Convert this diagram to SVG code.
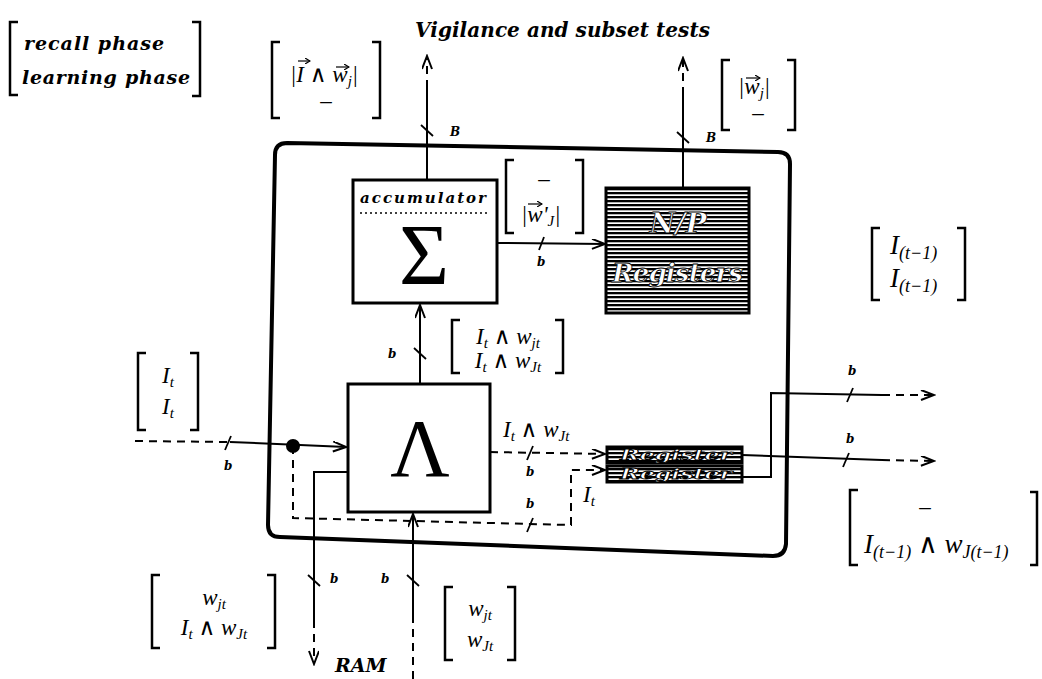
<svg xmlns="http://www.w3.org/2000/svg" width="1042" height="679" viewBox="0 0 1042 679">
<style>
.m{font-family:"Liberation Serif","DejaVu Serif",serif;font-style:italic;font-size:23px;fill:#000}
.bi{font-family:"DejaVu Serif","Liberation Serif",serif;font-style:italic;font-weight:bold;fill:#000}
.lb{font-family:"DejaVu Serif","Liberation Serif",serif;font-style:italic;font-weight:bold;font-size:12px;fill:#000}
.br{fill:none;stroke:#000;stroke-width:2.5}
.ln{fill:none;stroke:#000;stroke-width:2}
.ds{fill:none;stroke:#000;stroke-width:2;stroke-dasharray:8 6}
.tk{fill:none;stroke:#000;stroke-width:1.8}
.box{fill:#fff;stroke:#000;stroke-width:3}
.hat{fill:url(#stripes);stroke:#000;stroke-width:3}
.wt{font-family:"DejaVu Serif","Liberation Serif",serif;font-style:italic;font-weight:bold;fill:#fff;stroke:#000;stroke-width:0.8}
.sub{font-size:15px}
.big{font-size:27px}
.bigsub{font-size:18px}
.va{fill:none;stroke:#000;stroke-width:1.2}
</style>
<defs>
<pattern id="stripes" patternUnits="userSpaceOnUse" width="6" height="4">
<rect width="6" height="4" fill="#fff"/>
<rect width="6" height="2.3" fill="#000"/>
</pattern>
<marker id="ah" markerUnits="userSpaceOnUse" markerWidth="16" markerHeight="12" refX="14" refY="5" orient="auto">
<path d="M1,0 L14,5 L1,10" fill="none" stroke="#000" stroke-width="2"/>
</marker>
<marker id="va" markerUnits="userSpaceOnUse" markerWidth="6" markerHeight="6" refX="5" refY="3" orient="auto">
<path d="M0,0 L5,3 L0,6" fill="none" stroke="#000" stroke-width="1.2"/>
</marker>
</defs>
<rect width="1042" height="679" fill="#fff"/>

<g id="legend">
<path class="br" d="M18,22 H10 V95 H18"/>
<path class="br" d="M192,22 H200 V96 H192"/>
<text class="bi" x="24" y="50" font-size="19" textLength="140">recall phase</text>
<text class="bi" x="22" y="84" font-size="19" textLength="168">learning phase</text>
</g>

<g id="title">
<text class="bi" x="415" y="37" font-size="20" textLength="295">Vigilance and subset tests</text>
</g>

<g id="main-box">
<path d="M287,143 L778,152 Q790,152 790,164 L786,544 Q785,556 773,556 L280,537 Q268,537 268,525 L275,155 Q275,143 287,143 Z" fill="none" stroke="#000" stroke-width="4"/>
</g>

<g id="connectors">
<path class="ln" d="M427,180 V88"/>
<path class="ds" d="M427,88 V56" marker-end="url(#ah)"/>
<path class="tk" d="M421,125 L433,136"/>
<path class="ln" d="M683,190 V95"/>
<path class="ds" d="M683,95 V58" marker-end="url(#ah)"/>
<path class="tk" d="M677,132 L689,143"/>
<path class="ln" d="M497,243 L605,244" marker-end="url(#ah)"/>
<path class="tk" d="M539,250 L544,237"/>
<path class="ln" d="M420,384 V305" marker-end="url(#ah)"/>
<path class="tk" d="M414,348 L426,359"/>
<path class="ds" d="M135,441 L230,442"/>
<path class="ln" d="M230,442 L346,447" marker-end="url(#ah)"/>
<path class="tk" d="M225,450 L231,436"/>
<path class="ds" d="M293,446 V518 L571,525 V470 L605,470" marker-end="url(#ah)"/>
<path class="tk" d="M527,532 L533,518"/>
<path class="ds" d="M490,452 L605,454" marker-end="url(#ah)"/>
<path class="tk" d="M527,460 L533,446"/>
<path class="ln" d="M348,472 H314 V620"/>
<path class="ds" d="M314,620 V664" marker-end="url(#ah)"/>
<path class="tk" d="M308,575 L320,586"/>
<path class="ds" d="M413,679 V620"/>
<path class="ln" d="M413,620 V514" marker-end="url(#ah)"/>
<path class="tk" d="M407,575 L419,586"/>
<path class="ln" d="M742,455 L882,460"/>
<path class="ds" d="M882,460 L934,461" marker-end="url(#ah)"/>
<path class="tk" d="M843,467 L849,453"/>
<path class="ln" d="M742,477 H771 V393 L882,395"/>
<path class="ds" d="M882,395 L934,395" marker-end="url(#ah)"/>
<path class="tk" d="M847,402 L853,388"/>
<circle cx="293" cy="446" r="7" fill="#000"/>
</g>

<g id="connector-labels">
<text class="lb" x="450" y="136">B</text>
<text class="lb" x="706" y="142">B</text>
<text class="lb" x="537" y="266">b</text>
<text class="lb" x="388" y="358">b</text>
<text class="lb" x="224" y="470">b</text>
<text class="lb" x="526" y="476">b</text>
<text class="lb" x="526" y="508">b</text>
<text class="lb" x="330" y="583">b</text>
<text class="lb" x="381" y="583">b</text>
<text class="lb" x="846" y="443">b</text>
<text class="lb" x="848" y="375">b</text>
<text class="bi" x="335" y="672" font-size="19">RAM</text>
<text class="m" x="503" y="437">I<tspan class="sub" dy="4">t</tspan><tspan dy="-4"> ∧ w</tspan><tspan class="sub" dy="4">Jt</tspan></text>
<text class="m" x="583" y="502">I<tspan class="sub" dy="4">t</tspan></text>
</g>

<g id="label-iw">
<path class="br" d="M280,42 H272 V118 H280"/>
<path class="br" d="M372,42 H380 V118 H372"/>
<text class="m" x="290" y="82">|I ∧ w<tspan class="sub" dy="4">j</tspan><tspan dy="-4">|</tspan></text>
<path class="va" d="M298,61 H310" marker-end="url(#va)"/>
<path class="va" d="M336,67 H349" marker-end="url(#va)"/>
<text class="m" x="326" y="108" text-anchor="middle">–</text>
</g>

<g id="label-wj">
<path class="br" d="M730,60 H722 V130 H730"/>
<path class="br" d="M787,60 H795 V130 H787"/>
<text class="m" x="738" y="94">|w<tspan class="sub" dy="4">j</tspan><tspan dy="-4">|</tspan></text>
<path class="va" d="M746,78 H760" marker-end="url(#va)"/>
<text class="m" x="758" y="120" text-anchor="middle">–</text>
</g>

<g id="accumulator">
<rect class="box" x="353" y="180" width="144" height="123"/>
<text class="bi" x="360" y="203" font-size="15" textLength="126">accumulator</text>
<line x1="360" y1="213" x2="490" y2="213" stroke="#000" stroke-width="1.5" stroke-dasharray="2 3"/>
<text x="424" y="284" text-anchor="middle" font-family="Liberation Serif, serif" font-size="86">Σ</text>
</g>

<g id="label-wprime">
<path class="br" d="M514,160 H506 V233 H514"/>
<path class="br" d="M575,160 H583 V233 H575"/>
<text class="m" x="544" y="186" text-anchor="middle">–</text>
<text class="m" x="521" y="222">|w'<tspan class="sub" dy="4">J</tspan><tspan dy="-4">|</tspan></text>
<path class="va" d="M528,204 H542" marker-end="url(#va)"/>
</g>

<g id="np-registers">
<rect class="hat" x="606" y="188" width="143" height="125"/>
<text class="wt" x="678" y="233" text-anchor="middle" font-size="28">N/P</text>
<text class="wt" x="612" y="282" font-size="26" textLength="131">Registers</text>
</g>

<g id="label-iprev">
<path class="br" d="M880,228 H872 V300 H880"/>
<path class="br" d="M957,228 H965 V300 H957"/>
<text class="m big" x="890" y="254">I<tspan class="bigsub" dy="5">(t−1)</tspan></text>
<text class="m big" x="890" y="287">I<tspan class="bigsub" dy="5">(t−1)</tspan></text>
</g>

<g id="label-iw-and">
<path class="br" d="M460,320 H452 V373 H460"/>
<path class="br" d="M555,320 H563 V373 H555"/>
<text class="m" x="508" y="344" text-anchor="middle">I<tspan class="sub" dy="4">t</tspan><tspan dy="-4"> ∧ w</tspan><tspan class="sub" dy="4">jt</tspan></text>
<text class="m" x="508" y="368" text-anchor="middle">I<tspan class="sub" dy="4">t</tspan><tspan dy="-4"> ∧ w</tspan><tspan class="sub" dy="4">Jt</tspan></text>
</g>

<g id="label-it">
<path class="br" d="M146,353 H138 V430 H146"/>
<path class="br" d="M190,353 H198 V430 H190"/>
<text class="m" x="168" y="383" text-anchor="middle">I<tspan class="sub" dy="4">t</tspan></text>
<text class="m" x="168" y="414" text-anchor="middle">I<tspan class="sub" dy="4">t</tspan></text>
</g>

<g id="and-unit">
<rect class="box" x="348" y="384" width="142" height="128"/>
<text x="420" y="476" text-anchor="middle" font-family="Liberation Serif, serif" font-size="82">Λ</text>
</g>

<g id="register-1">
<rect class="hat" x="607" y="447" width="135" height="16" stroke-width="2.5"/>
<text class="wt" x="620" y="460" font-size="15" textLength="112" lengthAdjust="spacingAndGlyphs" stroke-width="0.5">Register</text>
</g>
<g id="register-2">
<rect class="hat" x="607" y="466" width="135" height="16" stroke-width="2.5"/>
<text class="wt" x="620" y="479" font-size="15" textLength="112" lengthAdjust="spacingAndGlyphs" stroke-width="0.5">Register</text>
</g>

<g id="label-out">
<path class="br" d="M858,490 H850 V565 H858"/>
<path class="br" d="M1030,492 H1037 V565 H1030"/>
<text class="m" x="925" y="514" text-anchor="middle">–</text>
<text class="m big" x="864" y="553">I<tspan class="bigsub" dy="5">(t−1)</tspan><tspan dy="-5"> ∧ w</tspan><tspan class="bigsub" dy="5">J(t−1)</tspan></text>
</g>

<g id="label-ram-out">
<path class="br" d="M160,575 H152 V648 H160"/>
<path class="br" d="M267,575 H275 V648 H267"/>
<text class="m" x="214" y="605" text-anchor="middle">w<tspan class="sub" dy="4">jt</tspan></text>
<text class="m" x="214" y="635" text-anchor="middle">I<tspan class="sub" dy="4">t</tspan><tspan dy="-4"> ∧ w</tspan><tspan class="sub" dy="4">Jt</tspan></text>
</g>

<g id="label-ram-in">
<path class="br" d="M453,587 H445 V660 H453"/>
<path class="br" d="M507,587 H515 V660 H507"/>
<text class="m" x="480" y="616" text-anchor="middle">w<tspan class="sub" dy="4">jt</tspan></text>
<text class="m" x="480" y="647" text-anchor="middle">w<tspan class="sub" dy="4">Jt</tspan></text>
</g>
</svg>
